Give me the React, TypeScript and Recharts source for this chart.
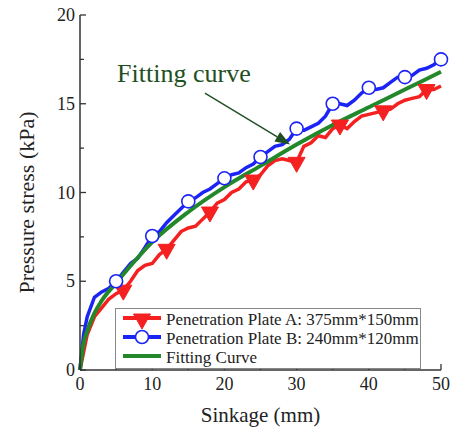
import { Legend, Line, LineChart, ReferenceLine, XAxis, YAxis } from "recharts";

const RED = "#f52020";
const BLUE = "#1c24f5";
const GREEN = "#22882a";
const ANNO = "#1f4f22";
const AXIS = "#333";
const FONT = "'Liberation Serif', 'Times New Roman', serif";

// sinkage (mm)
const sinkA = [0, 1, 2, 3, 4, 5, 6, 7, 8, 9, 10, 11, 12, 13, 14, 15, 16, 17, 18, 19, 20, 21, 22, 23, 24, 25, 26, 27, 28, 29, 30, 31, 32, 33, 34, 35, 36, 37, 38, 39, 40, 41, 42, 43, 44, 45, 46, 47, 48, 49, 50];
// plate A pressure (kPa)
const pressA = [0, 2.0, 3.0, 3.5, 4.0, 4.3, 4.5, 5.0, 5.6, 5.9, 6.0, 6.5, 6.8, 7.3, 7.8, 8.0, 8.1, 8.5, 8.9, 9.4, 9.6, 10.0, 10.2, 10.6, 10.7, 11.0, 11.5, 11.8, 11.9, 11.8, 11.7, 12.6, 12.8, 13.2, 13.1, 13.6, 13.8, 13.6, 14.0, 14.3, 14.4, 14.5, 14.6, 14.7, 15.0, 15.2, 15.3, 15.4, 15.8, 15.8, 16.0];
const markA = [6, 12, 18, 24, 30, 36, 42, 48];

const sinkB = [0, 0.5, 1, 2, 3, 4, 5, 6, 7, 8, 9, 10, 11, 12, 13, 14, 15, 16, 17, 18, 19, 20, 21, 22, 23, 24, 25, 26, 27, 28, 29, 30, 31, 32, 33, 34, 35, 36, 37, 38, 39, 40, 41, 42, 43, 44, 45, 46, 47, 48, 49, 50];
const pressB = [0, 2.0, 3.0, 4.1, 4.4, 4.6, 5.0, 5.5, 6.0, 6.3, 6.9, 7.55, 7.8, 8.3, 8.7, 9.1, 9.5, 9.7, 10.0, 10.2, 10.5, 10.8, 11.0, 11.1, 11.4, 11.6, 12.0, 12.3, 12.6, 12.7, 13.0, 13.6, 13.5, 13.7, 13.9, 14.3, 15.0, 15.0, 14.9, 15.2, 15.6, 15.9, 15.8, 15.9, 16.2, 16.5, 16.5, 16.6, 16.9, 17.0, 17.2, 17.5];
const markB = [5, 10, 15, 20, 25, 30, 35, 40, 45, 50];

const sinkFit = [0, 0.5, 1, 2, 3, 5, 7.5, 10, 15, 20, 25, 30, 35, 40, 45, 50];
const pressFit = [0, 1.5, 2.2, 3.2, 3.9, 4.9, 6.1, 7.2, 8.9, 10.3, 11.5, 12.7, 13.8, 14.8, 15.8, 16.8];

const xTicks = [0, 5, 10, 15, 20, 25, 30, 35, 40, 45, 50];
const yTicks = [0, 2.5, 5, 7.5, 10, 12.5, 15, 17.5, 20];

// annotation: label text and arrow from/to (data coords)
const annoText = "Fitting curve";
const annoArrow = [
  { x: 17.3, y: 15.6 },
  { x: 29.1, y: 12.7 },
];

const legendItems = [
  { label: "Penetration Plate A: 375mm*150mm", color: RED, marker: "tri" },
  { label: "Penetration Plate B: 240mm*120mm", color: BLUE, marker: "circle" },
  { label: "Fitting Curve", color: GREEN, marker: "none" },
];

const zip = (xs: number[], ys: number[]) => xs.map((x, i) => ({ x, y: ys[i] }));
const dataA = zip(sinkA, pressA);
const dataB = zip(sinkB, pressB);
const dataFit = zip(sinkFit, pressFit);

function Tri({ cx, cy, color }: { cx: number; cy: number; color: string }) {
  return <polygon points={`${cx - 8.5},${cy - 5} ${cx + 8.5},${cy - 5} ${cx},${cy + 10}`} fill={color} stroke={color} strokeWidth={1} />;
}

function Circ({ cx, cy, color }: { cx: number; cy: number; color: string }) {
  return <circle cx={cx} cy={cy} r={6.5} fill="#fff" stroke={color} strokeWidth={1.6} />;
}

const dotA = (p: any) =>
  markA.includes(p.payload.x) ? <Tri key={p.index} cx={p.cx} cy={p.cy} color={RED} /> : <g key={p.index} />;
const dotB = (p: any) =>
  markB.includes(p.payload.x) ? <Circ key={p.index} cx={p.cx} cy={p.cy} color={BLUE} /> : <g key={p.index} />;

function BottomTick({ x, y, payload }: any) {
  const major = payload.value % 10 === 0;
  return (
    <g>
      <line x1={x} x2={x} y1={y} y2={y - (major ? 6 : 4)} stroke={AXIS} strokeWidth={1.3} />
      {major && (
        <text x={x} y={y + 20} textAnchor="middle" fontSize={18} fontFamily={FONT} fill="#222">
          {payload.value}
        </text>
      )}
    </g>
  );
}

function TopTick({ x, y, payload }: any) {
  const major = payload.value % 10 === 0;
  return <line x1={x} x2={x} y1={y} y2={y + (major ? 6 : 4)} stroke={AXIS} strokeWidth={1.3} />;
}

function LeftTick({ x, y, payload }: any) {
  const major = payload.value % 5 === 0;
  return (
    <g>
      <line x1={x} x2={x + (major ? 6 : 4)} y1={y} y2={y} stroke={AXIS} strokeWidth={1.3} />
      {major && (
        <text x={x - 5} y={y + 6} textAnchor="end" fontSize={18} fontFamily={FONT} fill="#222">
          {payload.value}
        </text>
      )}
    </g>
  );
}

function LegendBox() {
  return (
    <div
      style={{
        border: "1px solid #888",
        background: "#fff",
        padding: "1px 0 1px 6px",
        fontFamily: FONT,
        fontSize: 17,
        color: "#222",
        lineHeight: "19px",
      }}
    >
      {legendItems.map((it) => (
        <div key={it.label} style={{ display: "flex", alignItems: "center", height: 19 }}>
          <svg width={40} height={19} style={{ marginRight: 4 }}>
            <line x1={1} x2={39} y1={8} y2={8} stroke={it.color} strokeWidth={4} />
            {it.marker === "tri" && <Tri cx={20} cy={9} color={it.color} />}
            {it.marker === "circle" && <Circ cx={20} cy={8} color={it.color} />}
          </svg>
          <span>{it.label}</span>
        </div>
      ))}
    </div>
  );
}

function Annotation(props: any) {
  const { x1, y1, x2, y2 } = props;
  const ang = Math.atan2(y2 - y1, x2 - x1);
  const len = 15;
  const w = 5.5;
  const bx = x2 - len * Math.cos(ang);
  const by = y2 - len * Math.sin(ang);
  const px = -Math.sin(ang) * w;
  const py = Math.cos(ang) * w;
  return (
    <g>
      <line x1={x1} y1={y1} x2={bx} y2={by} stroke={ANNO} strokeWidth={1.4} />
      <polygon points={`${x2},${y2} ${bx + px},${by + py} ${bx - px},${by - py}`} fill={ANNO} />
      <text x={x1 - 21} y={y1 - 11} textAnchor="middle" fontSize={26} fontFamily={FONT} fill={ANNO}>
        {annoText}
      </text>
    </g>
  );
}

function YTitle({ viewBox }: any) {
  const cy = viewBox.y + viewBox.height / 2 + 10;
  return (
    <text x={34} y={cy} transform={`rotate(-90 34 ${cy})`} textAnchor="middle" fontSize={22} fontFamily={FONT} fill="#222">
      Pressure stress (kPa)
    </text>
  );
}

export default function App() {
  return (
    <div style={{ position: "absolute", left: 0, top: 0, background: "#fff" }}>
      <LineChart width={454} height={432} margin={{ top: 15, right: 13, bottom: 0, left: 0 }}>
        <XAxis
          dataKey="x"
          type="number"
          domain={[0, 50]}
          ticks={xTicks}
          interval={0}
          tickSize={0}
          tickMargin={0}
          tickLine={false}
          tick={<BottomTick />}
          height={62}
          axisLine={{ stroke: AXIS, strokeWidth: 1.5 }}
          allowDuplicatedCategory={false}
          label={{ value: "Sinkage (mm)", position: "insideBottom", offset: 10, fontSize: 21, fontFamily: FONT, fill: "#222" }}
        />
        <XAxis
          xAxisId="top"
          orientation="top"
          dataKey="x"
          type="number"
          domain={[0, 50]}
          ticks={xTicks}
          interval={0}
          tickSize={0}
          tickMargin={0}
          tickLine={false}
          tick={<TopTick />}
          height={0}
          axisLine={{ stroke: AXIS, strokeWidth: 1.5 }}
        />
        <YAxis
          type="number"
          domain={[0, 20]}
          ticks={yTicks}
          interval={0}
          tickSize={0}
          tickMargin={0}
          tickLine={false}
          tick={<LeftTick />}
          width={80}
          axisLine={{ stroke: AXIS, strokeWidth: 1.5 }}
          label={YTitle}
        />
        <YAxis
          yAxisId="right"
          orientation="right"
          type="number"
          domain={[0, 20]}
          width={0}
          tick={false}
          tickLine={false}
          axisLine={{ stroke: AXIS, strokeWidth: 1.5 }}
        />
        <Line data={dataA} dataKey="y" stroke={RED} strokeWidth={3.5} dot={dotA} isAnimationActive={false} type="linear" />
        <Line data={dataB} dataKey="y" stroke={BLUE} strokeWidth={3.5} dot={dotB} isAnimationActive={false} type="linear" />
        <Line data={dataFit} dataKey="y" stroke={GREEN} strokeWidth={4} dot={false} isAnimationActive={false} type="monotone" />
        <ReferenceLine segment={annoArrow} shape={Annotation} ifOverflow="visible" />
        <Legend
          layout="vertical"
          align="center"
          verticalAlign="middle"
          content={() => <LegendBox />}
          wrapperStyle={{ left: 115, top: 308, width: 306, height: "auto" }}
        />
      </LineChart>
    </div>
  );
}
